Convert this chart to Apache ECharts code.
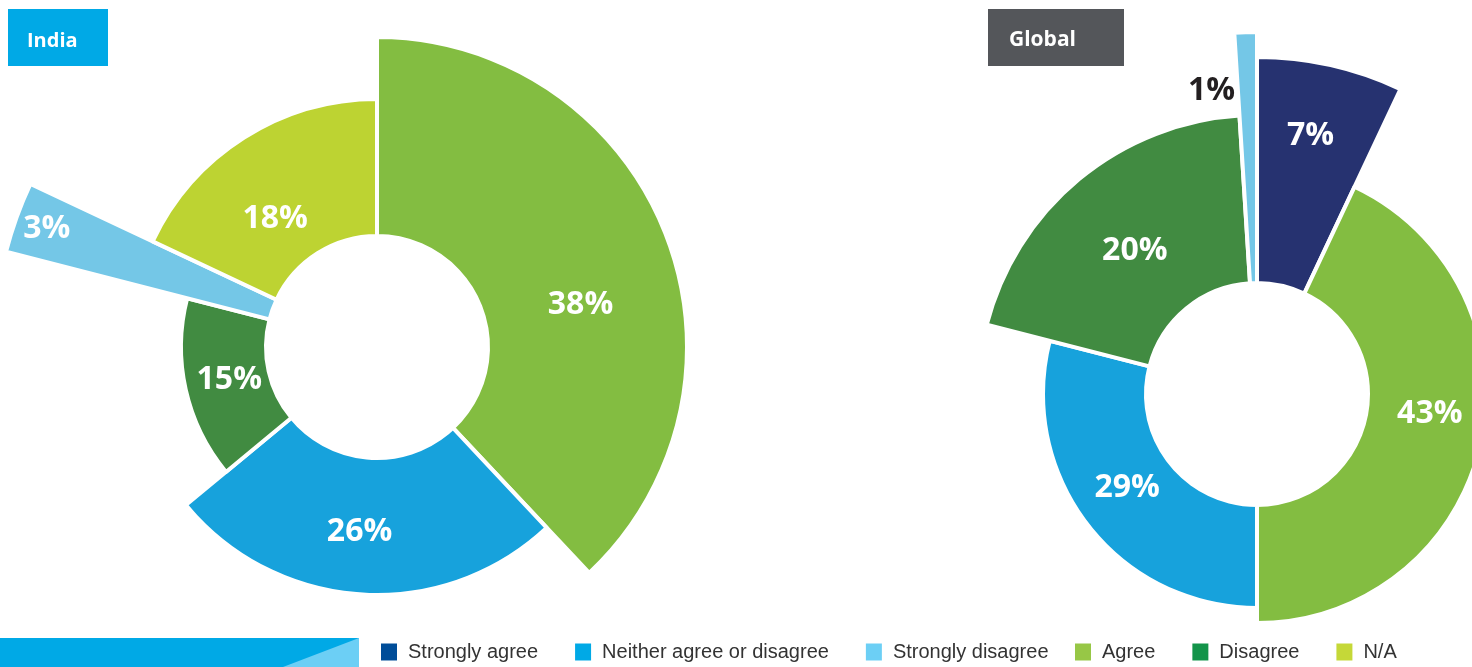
<!DOCTYPE html>
<html>
<head>
<meta charset="utf-8">
<title>India vs Global</title>
<script src="https://cdn.jsdelivr.net/npm/echarts@6/dist/echarts.min.js"></script>
<style>
  html, body { margin: 0; padding: 0; background: #ffffff; }
  #chart { width: 1472px; height: 667px; }
</style>
</head>
<body>
<div id="chart"></div>
<script>
// Answer categories shown in the legend (two legend rows sit side by side)
const legendLeftItems = ['Strongly agree', 'Neither agree or disagree', 'Strongly disagree'];
const legendRightItems = ['Agree', 'Disagree', 'N/A'];

// India: slices clockwise from 12 o'clock (percent)
const indiaNames = ['Agree', 'Neither agree or disagree', 'Disagree', 'Strongly disagree', 'N/A'];
const indiaValues = [38, 26, 15, 3, 18];

// Global: slices clockwise from 12 o'clock (percent)
const globalNames = ['Strongly agree', 'Agree', 'Neither agree or disagree', 'Disagree', 'Strongly disagree'];
const globalValues = [7, 43, 29, 20, 1];

// ---- styling ----
const sliceColors = {
  'Strongly agree': '#263270',
  'Neither agree or disagree': '#17a2dc',
  'Strongly disagree': '#74c7e7',
  'Agree': '#83bd41',
  'Disagree': '#418b41',
  'N/A': '#bdd332'
};
const legendColors = {
  'Strongly agree': '#004d99',
  'Neither agree or disagree': '#00a9e6',
  'Strongly disagree': '#6ccff5',
  'Agree': '#97c746',
  'Disagree': '#13944a',
  'N/A': '#c5d838'
};

const INNER = 111;
const indiaLayout = {
  center: [377, 347],
  outer: { 'Agree': 310, 'Neither agree or disagree': 248, 'Disagree': 196, 'Strongly disagree': 383, 'N/A': 248 },
  shift: { 'Agree': [5, 36], 'Neither agree or disagree': [-6, 3], 'Disagree': [5, -1], 'Strongly disagree': [-95, -33], 'N/A': [-4, 26] },
  labelColor: {}
};
const globalLayout = {
  center: [1257, 394],
  outer: { 'Strongly agree': 337, 'Agree': 229, 'Neither agree or disagree': 214, 'Disagree': 279, 'Strongly disagree': 362 },
  shift: { 'Strongly agree': [4, -37], 'Agree': [4, -18], 'Neither agree or disagree': [1, -8], 'Disagree': [4, 9], 'Strongly disagree': [-38, -64] },
  labelColor: { 'Strongly disagree': '#231f20' }
};

// One pie ring per slice so each slice can carry its own outer radius;
// the other slices of that ring are kept invisible to preserve the angles.
function buildSlices(names, values, layout) {
  return names.map(function (name, i) {
    const shift = layout.shift[name];
    return {
      type: 'pie',
      name: name,
      center: layout.center,
      radius: [INNER, layout.outer[name]],
      startAngle: 90,
      clockwise: true,
      avoidLabelOverlap: false,
      silent: true,
      animation: false,
      z: 2 + i,
      label: {
        show: true,
        position: 'inside',
        formatter: '{c}%',
        color: layout.labelColor[name] || '#ffffff',
        fontFamily: 'Open Sans',
        fontWeight: 'bold',
        fontSize: 32
      },
      labelLine: { show: false },
      labelLayout: function () { return { dx: shift[0], dy: shift[1] }; },
      emphasis: { disabled: true },
      data: names.map(function (n, j) {
        const visible = j === i;
        return {
          name: n,
          value: values[j],
          itemStyle: visible
            ? { color: sliceColors[n], borderColor: '#ffffff', borderWidth: 4 }
            : { color: 'rgba(0,0,0,0)', borderWidth: 0 },
          label: { show: visible }
        };
      })
    };
  });
}

function legendBlock(items, left) {
  return {
    left: left,
    top: 642,
    padding: 0,
    orient: 'horizontal',
    icon: 'rect',
    itemWidth: 16,
    itemHeight: 17,
    itemGap: 37,
    selectedMode: false,
    textStyle: {
      fontFamily: 'Liberation Sans',
      fontSize: 20,
      color: '#333333',
      padding: [0, 0, 0, 6]
    },
    data: items.map(function (c) {
      return { name: c, itemStyle: { color: legendColors[c] } };
    })
  };
}

const chart = echarts.init(document.getElementById('chart'), null, { renderer: 'canvas' });

const option = {
  backgroundColor: '#ffffff',
  animation: false,
  legend: [legendBlock(legendLeftItems, 381), legendBlock(legendRightItems, 1075)],
  graphic: [
    { type: 'rect', left: 8, top: 9, shape: { width: 100, height: 57 }, style: { fill: '#00a9e6' } },
    { type: 'text', left: 27, top: 31, style: { text: 'India', fill: '#ffffff', font: 'bold 20px "Open Sans"' } },
    { type: 'rect', left: 988, top: 9, shape: { width: 136, height: 57 }, style: { fill: '#54565a' } },
    { type: 'text', left: 1009, top: 30, style: { text: 'Global', fill: '#ffffff', font: 'bold 21px "Open Sans"' } },
    { type: 'rect', left: 0, top: 638, shape: { width: 359, height: 29 }, style: { fill: '#00a9e6' } },
    { type: 'polygon', shape: { points: [[283, 667], [359, 638], [359, 667]] }, style: { fill: '#6ccff5' } }
  ],
  series: buildSlices(indiaNames, indiaValues, indiaLayout)
    .concat(buildSlices(globalNames, globalValues, globalLayout))
};

chart.setOption(option);
</script>
</body>
</html>
